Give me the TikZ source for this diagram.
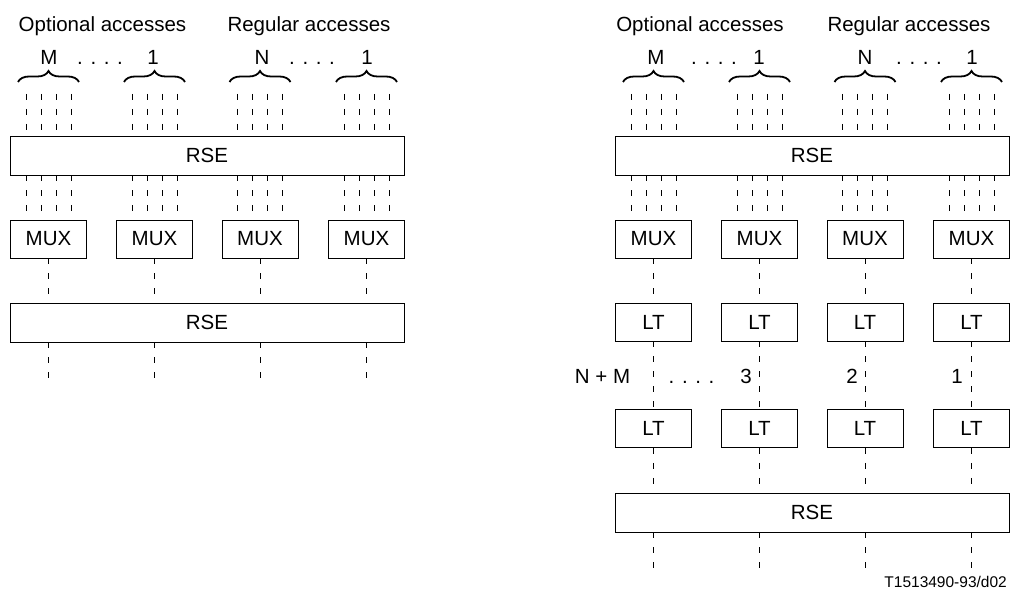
\documentclass[tikz,border=0pt]{standalone}
\usepackage{fontspec}
\setmainfont{Liberation Sans}
\usetikzlibrary{decorations.pathreplacing,calc}
\begin{document}
\begin{tikzpicture}[x=1pt,y=-1pt,
  box/.style={draw, line width=0.8pt, inner sep=0pt, font=\fontsize{20.5}{24}\selectfont},
  wide/.style={box, minimum width=394pt, minimum height=39pt},
  small/.style={box, minimum width=76pt, minimum height=38pt},
  lbl/.style={inner sep=0pt, anchor=base, font=\fontsize{20.5}{24}\selectfont},
  dl/.style={dash pattern=on 6pt off 9pt, line width=0.8pt},
  brc/.style={decorate, decoration={brace, amplitude=11pt}, line width=1.8pt}]
\useasboundingbox (0,0) rectangle (1010,591);

% ---------- left diagram ----------
\node[wide] (L-rse1) at (207,155.5) {RSE};
\node[wide] (L-rse2) at (207,322.5) {RSE};
\foreach \i/\cx in {1/48.5,2/154.5,3/260,4/366.5} {
  \node[small] (L-mux-\i) at (\cx,239) {MUX};
  \draw[dl] (L-mux-\i.south) -- (L-rse2.north -| L-mux-\i.south);
  \coordinate (L-end-\i) at (\cx,380);
  \draw[dl] (L-rse2.south -| L-end-\i) -- (L-end-\i);
  \draw[brc] ({\cx-30.5},82) -- ({\cx+30.5},82);
  \foreach \d [count=\j] in {-22.5,-7.5,7.5,22.5} {
    \coordinate (L-top-\i-\j) at ({\cx+\d},94);
    \draw[dl] (L-top-\i-\j) -- (L-top-\i-\j |- L-rse1.north);
    \draw[dl] (L-top-\i-\j |- L-rse1.south) -- (L-top-\i-\j |- L-mux-\i.north);
  }
}
\node[lbl] (L-opt) at (102.5,32) {Optional accesses};
\node[lbl] (L-reg) at (309,32) {Regular accesses};
\node[lbl] (L-m) at (49,65) {M};
\node[lbl] (L-d1) at (100,65) {. . . .};
\node[lbl] (L-1a) at (153,65) {1};
\node[lbl] (L-n) at (262,65) {N};
\node[lbl] (L-d2) at (312,65) {. . . .};
\node[lbl] (L-1b) at (367,65) {1};

% ---------- right diagram ----------
\node[wide] (R-rse1) at (812,155.5) {RSE};
\node[wide] (R-rse2) at (812,512.5) {RSE};
\foreach \i/\cx in {1/653.5,2/759.5,3/865,4/971.5} {
  \node[small] (R-mux-\i) at (\cx,239) {MUX};
  \node[small] (R-lta-\i) at (\cx,322) {LT};
  \node[small] (R-ltb-\i) at (\cx,428.5) {LT};
  \draw[dl] (R-mux-\i.south) -- (R-lta-\i.north);
  \draw[dl] (R-lta-\i.south) -- (R-ltb-\i.north);
  \draw[dl] (R-ltb-\i.south) -- (R-rse2.north -| R-ltb-\i.south);
  \coordinate (R-end-\i) at (\cx,570);
  \draw[dl] (R-rse2.south -| R-end-\i) -- (R-end-\i);
  \draw[brc] ({\cx-30.5},82) -- ({\cx+30.5},82);
  \foreach \d [count=\j] in {-22.5,-7.5,7.5,22.5} {
    \coordinate (R-top-\i-\j) at ({\cx+\d},94);
    \draw[dl] (R-top-\i-\j) -- (R-top-\i-\j |- R-rse1.north);
    \draw[dl] (R-top-\i-\j |- R-rse1.south) -- (R-top-\i-\j |- R-mux-\i.north);
  }
}
\node[lbl] (R-opt) at (700,32) {Optional accesses};
\node[lbl] (R-reg) at (909,32) {Regular accesses};
\node[lbl] (R-m) at (656,65) {M};
\node[lbl] (R-d1) at (714,65) {. . . .};
\node[lbl] (R-1a) at (759,65) {1};
\node[lbl] (R-n) at (865,65) {N};
\node[lbl] (R-d2) at (919,65) {. . . .};
\node[lbl] (R-1b) at (972,65) {1};

\node[lbl] (R-nm) at (602.5,383) {N + M};
\node[lbl] (R-d3) at (691.5,383) {. . . .};
\node[lbl] (R-3) at (746,383) {3};
\node[lbl] (R-2) at (852,383) {2};
\node[lbl] (R-1c) at (957,383) {1};

\node[inner sep=0pt, anchor=base east, font=\fontsize{15.5}{18}\selectfont] (R-id) at (1007,587) {T1513490-93/d02};
\end{tikzpicture}
\end{document}
